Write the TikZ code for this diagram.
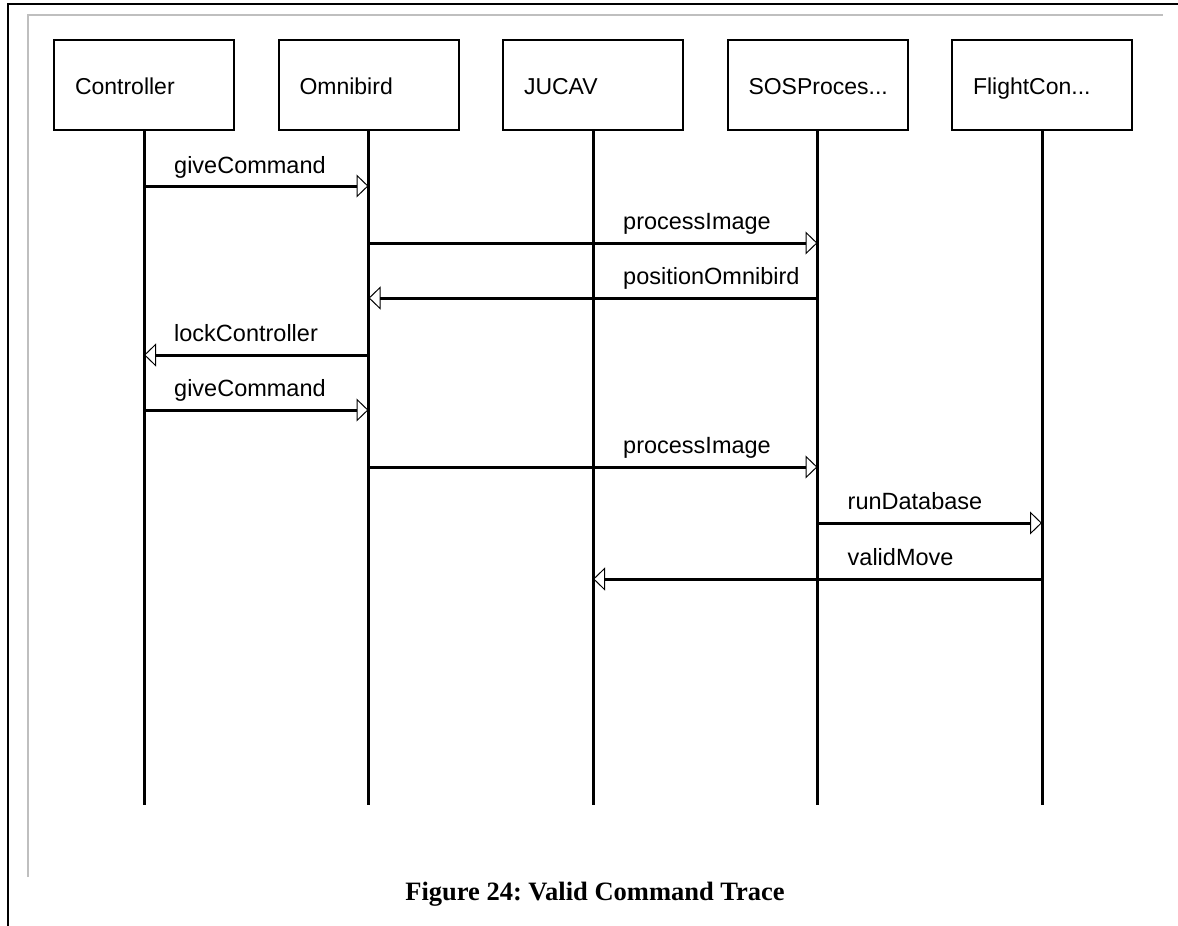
\documentclass[tikz,border=0pt]{standalone}
\usepackage{fontspec}
\setmainfont{Liberation Sans}
\newfontfamily\captionserif{Liberation Serif}
\usetikzlibrary{arrows.meta}
\frenchspacing

\begin{document}
\begin{tikzpicture}[x=1pt, y=-1pt,
  objbox/.style={draw, line width=2pt, minimum width=180pt, minimum height=90pt,
    align=left, inner xsep=21pt, inner ysep=0pt, text height=23pt, text depth=5pt,
    font=\fontsize{23}{27}\selectfont},
  lifeline/.style={line width=3pt},
  msg/.style={line width=3pt, -{Triangle[open, length=12pt, width=23pt, line width=1pt]}},
  msglabel/.style={anchor=base west, inner sep=0pt, font=\fontsize{23.5}{27}\selectfont}
]
\newcommand\objname[1]{\makebox[138pt][l]{#1}}
\useasboundingbox (0,0) rectangle (1178,926);

% page frame and the grey inner frame
\draw[line width=2pt] (7.5,926) -- (7.5,4) -- (1178,4);
\draw[line width=2pt, color=black!25] (28,877) -- (28,15) -- (1163,15);

% objects
\node[objbox] (ctrl) at (144,85) {\objname{Controller}};
\node[objbox] (omni) at (368.5,85) {\objname{Omnibird}};
\node[objbox] (jucav) at (593,85) {\objname{JUCAV}};
\node[objbox] (sos) at (817.5,85) {\objname{SOSProces...}};
\node[objbox] (flight) at (1042,85) {\objname{FlightCon...}};

% lifeline ends
\coordinate (ctrlEnd) at (144,805);
\coordinate (omniEnd) at (368.5,805);
\coordinate (jucavEnd) at (593,805);
\coordinate (sosEnd) at (817.5,805);
\coordinate (flightEnd) at (1042,805);

\draw[lifeline] (ctrl.south) -- (ctrlEnd);
\draw[lifeline] (omni.south) -- (omniEnd);
\draw[lifeline] (jucav.south) -- (jucavEnd);
\draw[lifeline] (sos.south) -- (sosEnd);
\draw[lifeline] (flight.south) -- (flightEnd);

% message rows
\coordinate (r1) at (0,186);
\coordinate (r2) at (0,243);
\coordinate (r3) at (0,298);
\coordinate (r4) at (0,355);
\coordinate (r5) at (0,410);
\coordinate (r6) at (0,467);
\coordinate (r7) at (0,523);
\coordinate (r8) at (0,579);

% messages
\draw[msg] (ctrl |- r1) -- (omni |- r1);
\node[msglabel] (l1) at ([xshift=30pt, yshift=13pt]ctrl |- r1) {giveCommand};

\draw[msg] (omni |- r2) -- (sos |- r2);
\node[msglabel] (l2) at ([xshift=30pt, yshift=14pt]jucav |- r2) {processImage};

\draw[msg] (sos |- r3) -- (omni |- r3);
\node[msglabel] (l3) at ([xshift=30pt, yshift=14pt]jucav |- r3) {positionOmnibird};

\draw[msg] (omni |- r4) -- (ctrl |- r4);
\node[msglabel] (l4) at ([xshift=30pt, yshift=14pt]ctrl |- r4) {lockController};

\draw[msg] (ctrl |- r5) -- (omni |- r5);
\node[msglabel] (l5) at ([xshift=30pt, yshift=14pt]ctrl |- r5) {giveCommand};

\draw[msg] (omni |- r6) -- (sos |- r6);
\node[msglabel] (l6) at ([xshift=30pt, yshift=14pt]jucav |- r6) {processImage};

\draw[msg] (sos |- r7) -- (flight |- r7);
\node[msglabel] (l7) at ([xshift=30pt, yshift=14pt]sos |- r7) {runDatabase};

\draw[msg] (flight |- r8) -- (jucav |- r8);
\node[msglabel] (l8) at ([xshift=30pt, yshift=14pt]sos |- r8) {validMove};

% caption
\node[anchor=base, inner sep=0pt, font=\captionserif\bfseries\fontsize{26.5}{30}\selectfont]
  (caption) at (595,900) {Figure 24: Valid Command Trace};
\end{tikzpicture}
\end{document}
